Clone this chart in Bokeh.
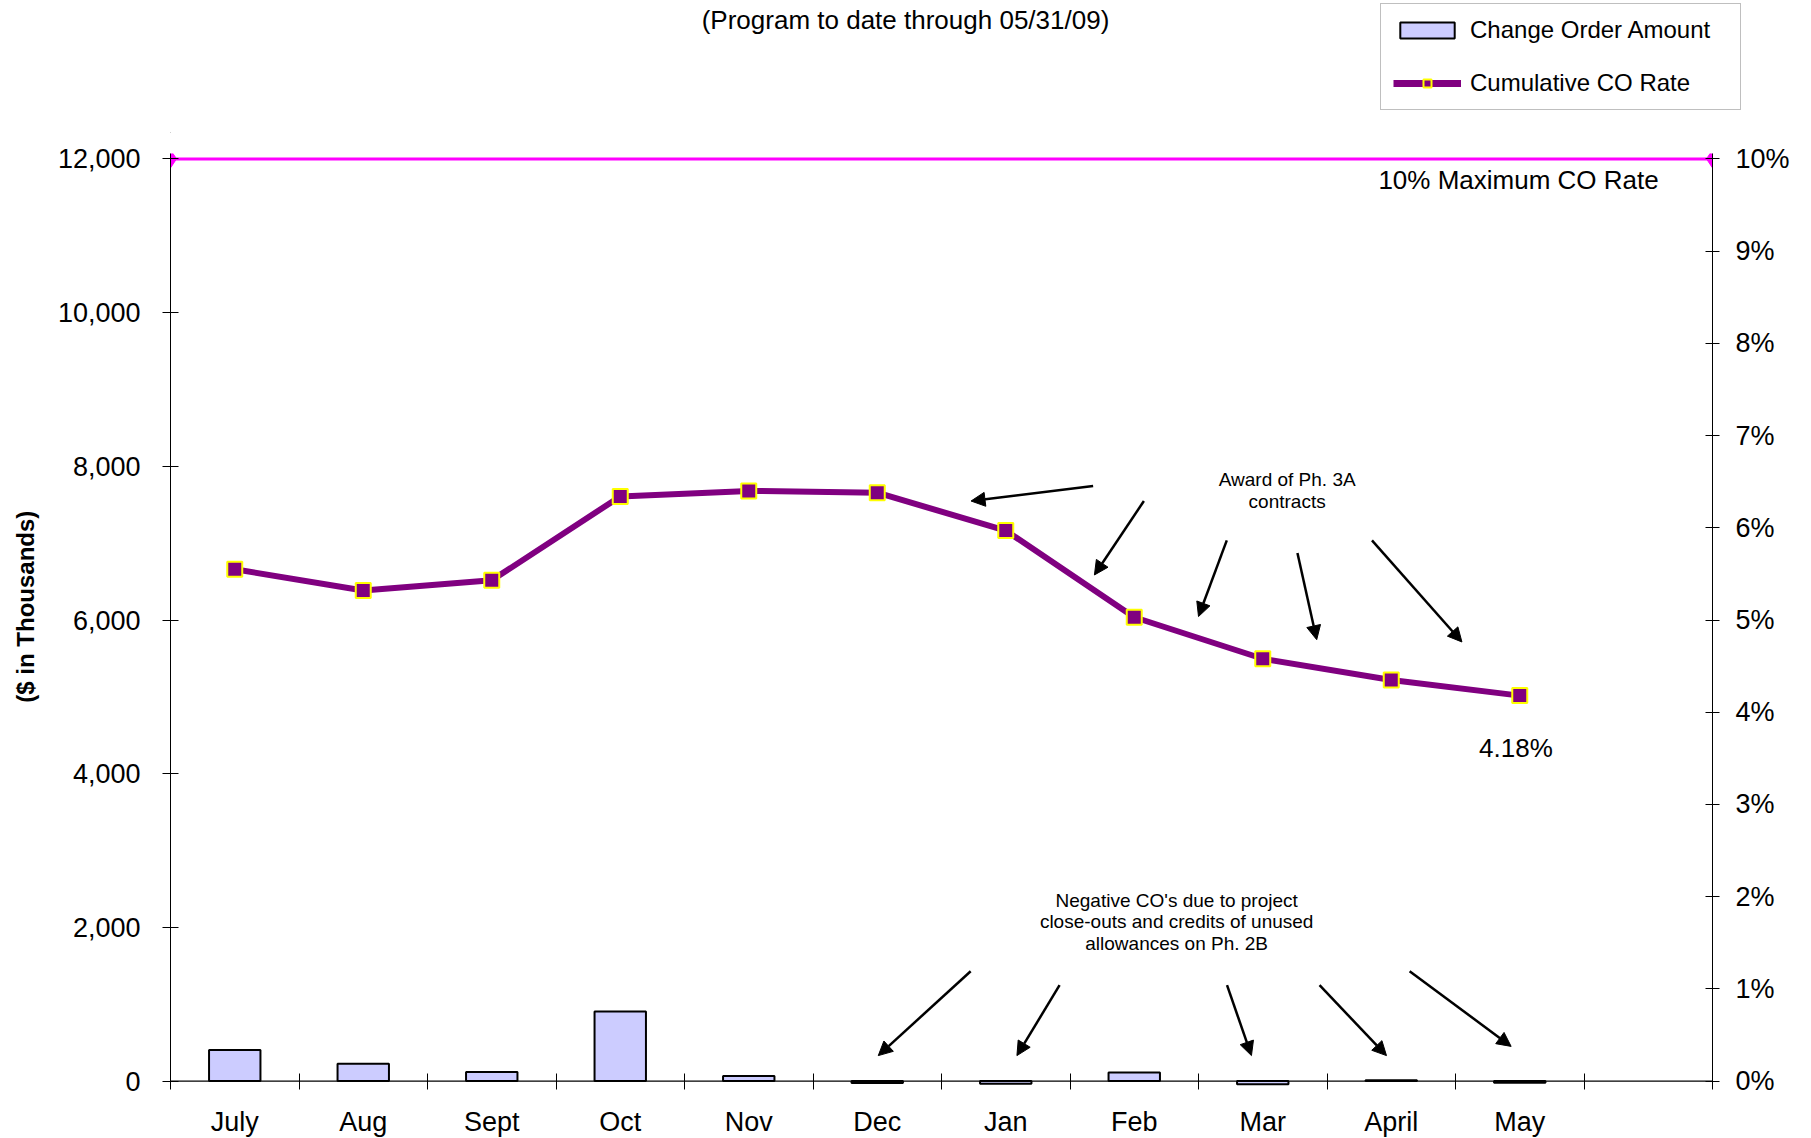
from bokeh.plotting import figure
from bokeh.layouts import column
from bokeh.models import (Range1d, LinearAxis, FixedTicker, NumeralTickFormatter, Span,
                          Label, Arrow, NormalHead, Legend, LegendItem, ColumnDataSource)
from bokeh.embed import file_html
from bokeh.resources import INLINE

# ---------------- data ----------------
months = ["July", "Aug", "Sept", "Oct", "Nov", "Dec", "Jan", "Feb", "Mar", "April", "May"]
co_amount = [405, 225, 118, 905, 68, -25, -35, 112, -40, 12, -20]          # $ thousands
co_rate = [5.55, 5.32, 5.43, 6.34, 6.40, 6.38, 5.97, 5.03, 4.58, 4.35, 4.18]  # percent
max_rate = 10
left_ticks = [0, 2000, 4000, 6000, 8000, 10000, 12000]
right_ticks = [0, 1, 2, 3, 4, 5, 6, 7, 8, 9, 10]
n_slots = 12
title_text = "(Program to date through 05/31/09)"

FONT = "Liberation Sans"
BAR_FILL = "#CCCCFF"
LINE_C = "#800080"
MARK_OUT = "#FFFF00"

TOTAL_W = 170 + 1542 + 91
HEAD_H = 133
MAIN_TOP = 20

# ---------------- header (title + legend) ----------------
top = figure(frame_width=TOTAL_W, frame_height=HEAD_H, output_backend="svg", toolbar_location=None,
             x_range=Range1d(0, TOTAL_W), y_range=Range1d(0, HEAD_H),
             x_axis_type=None, y_axis_type=None,
             min_border_left=0, min_border_right=0, min_border_top=0, min_border_bottom=0,
             background_fill_color="white", border_fill_color="white")
top.outline_line_color = None
top.grid.visible = False
top.add_layout(Label(x=735, x_units="screen", y=HEAD_H - 19, text=title_text, text_font=FONT,
                     text_font_size="26px", text_align="center", text_baseline="middle",
                     text_color="black"))

# legend-only renderers (one point, out of view)
proxy = ColumnDataSource(dict(x=[-50], y=[-50], top=[-50]))
lb = top.vbar(x="x", top="top", width=1, source=proxy, fill_color=BAR_FILL, line_color="black", line_width=2)
ll = top.line(x="x", y="y", source=proxy, line_color=LINE_C, line_width=7)
lm = top.scatter(x="x", y="y", source=proxy, marker="square", size=16,
                 fill_color=LINE_C, line_color=MARK_OUT, line_width=2)
legend = Legend(items=[LegendItem(label="Change Order Amount", renderers=[lb]),
                       LegendItem(label="Cumulative CO Rate", renderers=[ll, lm])],
                location=(1380, HEAD_H + MAIN_TOP - 130), orientation="vertical",
                label_text_font=FONT, label_text_font_size="24px", label_text_color="black",
                glyph_width=68, glyph_height=20, label_height=20, label_standoff=9,
                label_width=258, spacing=25, padding=12, margin=0,
                border_line_color="#808080", border_line_width=1.5, background_fill_color="white",
                background_fill_alpha=1)
top.add_layout(legend, "center")

# ---------------- main chart ----------------
pad = 70
y0, y1 = -pad, 12000 + pad
scale = 12000 / max_rate

p = figure(frame_width=1542, frame_height=933, output_backend="svg", toolbar_location=None,
           x_range=Range1d(0, n_slots), y_range=Range1d(y0, y1),
           min_border_left=170, min_border_right=91, min_border_top=MAIN_TOP, min_border_bottom=40,
           background_fill_color="white", border_fill_color="white")
p.outline_line_color = None
p.xgrid.visible = False
p.ygrid.visible = False
p.extra_y_ranges = {"pct": Range1d(y0 / scale, y1 / scale)}

# left axis
ya = p.yaxis[0]
ya.ticker = FixedTicker(ticks=left_ticks, minor_ticks=[])
ya.formatter = NumeralTickFormatter(format="0,0")
ya.major_label_text_font = FONT
ya.major_label_text_font_size = "27px"
ya.major_label_text_color = "black"
ya.major_tick_in = 8
ya.major_tick_out = 8
ya.major_label_standoff = 22
ya.axis_line_color = "black"
ya.major_tick_line_color = "black"
ya.axis_label = "\u00a0\u00a0\u00a0\u00a0($ in Thousands)"
ya.axis_label_text_font = FONT
ya.axis_label_text_font_style = "bold"
ya.axis_label_text_font_size = "24px"
ya.axis_label_text_color = "black"
ya.axis_label_standoff = 16

# right axis
ra = LinearAxis(y_range_name="pct", ticker=FixedTicker(ticks=right_ticks, minor_ticks=[]),
                major_label_overrides={t: f"{t}%" for t in right_ticks})
ra.major_label_text_font = FONT
ra.major_label_text_font_size = "27px"
ra.major_label_text_color = "black"
ra.major_tick_in = 7
ra.major_tick_out = 7
ra.major_label_standoff = 16
ra.axis_line_color = "black"
p.add_layout(ra, "right")

# bottom axis
xs = [i + 0.5 for i in range(len(months))]
xa = p.xaxis[0]
xa.ticker = FixedTicker(ticks=xs, minor_ticks=list(range(n_slots + 1)))
xa.major_label_overrides = {x: m for x, m in zip(xs, months)}
xa.major_label_text_font = FONT
xa.major_label_text_font_size = "27px"
xa.major_label_text_color = "black"
xa.major_tick_in = 0
xa.major_tick_out = 0
xa.minor_tick_in = 13
xa.minor_tick_out = 3
xa.minor_tick_line_color = "black"
xa.axis_line_color = None
xa.major_label_standoff = 17
p.add_layout(Span(location=0, dimension="width", line_color="black", line_width=1.2))

# bars
bsrc = ColumnDataSource(dict(x=xs, top=co_amount))
bars = p.vbar(x="x", top="top", bottom=0, width=0.4, source=bsrc,
              fill_color=BAR_FILL, line_color="black", line_width=2)

# max rate line
p.line(x=[0, n_slots], y=[max_rate, max_rate], y_range_name="pct", line_color="#FF00FF", line_width=3)
p.scatter(x=[0, n_slots], y=[max_rate, max_rate], y_range_name="pct", marker="diamond",
          size=18, fill_color="#FF00FF", line_color="#FF00FF")

# cumulative rate
lsrc = ColumnDataSource(dict(x=xs, y=co_rate))
ln = p.line(x="x", y="y", source=lsrc, y_range_name="pct", line_color=LINE_C, line_width=6)
mk = p.scatter(x="x", y="y", source=lsrc, y_range_name="pct", marker="square", size=15,
               fill_color=LINE_C, line_color=MARK_OUT, line_width=2)

# texts
p.add_layout(Label(x=9.40, y=11727, text=f"{max_rate}% Maximum CO Rate", text_font=FONT,
                   text_font_size="26px", text_align="left", text_baseline="middle", text_color="black"))
p.add_layout(Label(x=10.47, y=3.61, y_range_name="pct", text=f"{co_rate[-1]:.2f}%", text_font=FONT,
                   text_font_size="26px", text_align="center", text_baseline="middle", text_color="black"))

award_lines = ["Award of Ph. 3A", "contracts"]
award_pos = [(8.69, 7822), (8.69, 7536)]
for t, (x, y) in zip(award_lines, award_pos):
    p.add_layout(Label(x=x, y=y, text=t, text_font=FONT, text_font_size="19px",
                       text_align="center", text_baseline="middle", text_color="black"))

neg_lines = ["Negative CO's due to project", "close-outs and credits of unused", "allowances on Ph. 2B"]
neg_pos = [(7.83, 2356), (7.83, 2083), (7.83, 1796)]
for t, (x, y) in zip(neg_lines, neg_pos):
    p.add_layout(Label(x=x, y=y, text=t, text_font=FONT, text_font_size="19px",
                       text_align="center", text_baseline="middle", text_color="black"))

# annotation arrows (x_start, y_start, x_end, y_end)
arrows = [
    (7.18, 7743, 6.23, 7548),
    (7.575, 7548, 7.19, 6586),
    (8.22, 7036, 8.00, 6045),
    (8.77, 6872, 8.92, 5744),
    (9.35, 7036, 10.05, 5714),
    (6.227, 1429, 5.508, 332),
    (6.919, 1248, 6.587, 332),
    (8.222, 1248, 8.412, 332),
    (8.942, 1248, 9.463, 332),
    (9.643, 1429, 10.433, 452),
]
for xs0, ys0, xe, ye in arrows:
    p.add_layout(Arrow(x_start=xs0, y_start=ys0, x_end=xe, y_end=ye, line_width=2.5, line_color="black",
                       end=NormalHead(size=14, fill_color="black", line_color="black")))

layout = column(top, p, spacing=0)
open("out.html", "w").write(file_html(layout, INLINE))
